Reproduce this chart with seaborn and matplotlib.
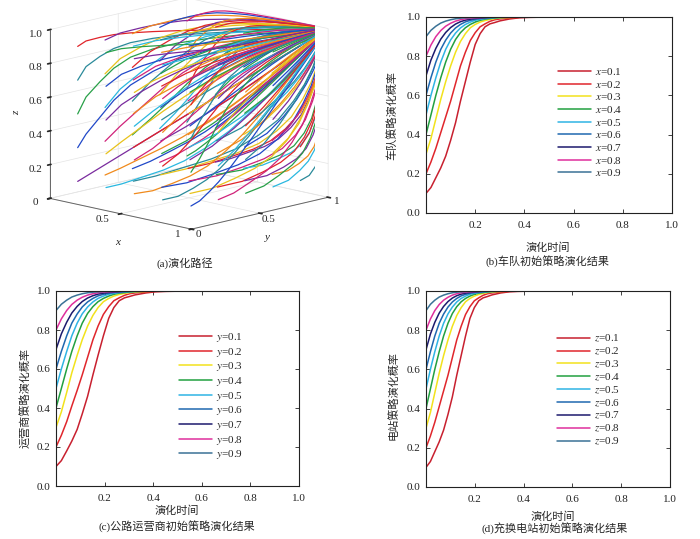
import numpy as np
import pandas as pd
import seaborn as sns
import matplotlib.pyplot as plt

sns.set_theme(style='ticks')
plt.rcParams['font.family'] = ['Liberation Serif', 'Noto Sans CJK SC']
plt.rcParams['mathtext.fontset'] = 'stix'
plt.rcParams['axes.unicode_minus'] = False
plt.rcParams['grid.color'] = '#e4e4e4'
plt.rcParams['grid.linewidth'] = 0.5

# initial strategy levels shown in panels b-d
init_levels = [0.1, 0.2, 0.3, 0.4, 0.5, 0.6, 0.7, 0.8, 0.9]

# evolution time samples for each panel
t_b = [0, .02, .04, .06, .08, .10, .12, .14, .16, .18, .20, .22, .24, .26, .28, .30, .34, .38, .42, .46, .52]
t_c = [0, .022, .044, .065, .087, .108, .13, .152, .173, .195, .217, .238, .26, .282, .303, .325, .37, .41, .455, .5, .57]
t_d = [0, .018, .036, .054, .072, .09, .108, .126, .144, .162, .18, .198, .216, .234, .252, .27, .306, .342, .378, .414, .46]

# probability curves (one per initial level)
v01 = [.10, .13, .18, .23, .29, .37, .46, .57, .67, .77, .86, .915, .95, .965, .972, .98, .99, .996, .998, .999, 1.0]
v02 = [.20, .26, .33, .41, .49, .57, .66, .75, .82, .88, .92, .95, .965, .978, .986, .99, .995, .998, .999, 1.0, 1.0]
v03 = [.30, .38, .48, .58, .67, .75, .82, .875, .915, .945, .962, .974, .982, .988, .992, .995, .998, .999, 1.0, 1.0, 1.0]
v04 = [.40, .50, .60, .69, .77, .835, .885, .92, .945, .962, .974, .983, .989, .992, .995, .997, .999, 1.0, 1.0, 1.0, 1.0]
v05 = [.50, .60, .69, .77, .835, .883, .918, .944, .962, .974, .983, .988, .992, .995, .997, .998, .999, 1.0, 1.0, 1.0, 1.0]
v06 = [.60, .69, .77, .835, .882, .918, .944, .962, .975, .983, .988, .992, .995, .997, .998, .999, 1.0, 1.0, 1.0, 1.0, 1.0]
v07 = [.70, .78, .84, .887, .921, .946, .964, .976, .984, .989, .993, .995, .997, .998, .999, 1.0, 1.0, 1.0, 1.0, 1.0, 1.0]
v08 = [.80, .857, .90, .931, .953, .968, .979, .986, .991, .994, .996, .997, .998, .999, 1.0, 1.0, 1.0, 1.0, 1.0, 1.0, 1.0]
v09 = [.90, .932, .953, .969, .979, .986, .991, .994, .996, .997, .998, .999, 1.0, 1.0, 1.0, 1.0, 1.0, 1.0, 1.0, 1.0, 1.0]
curves = [v01, v02, v03, v04, v05, v06, v07, v08, v09]

line_colors = ['#c8202f', '#e0262c', '#f2e21c', '#22a040', '#2fb4e4',
               '#1f68b0', '#1c1a6e', '#df2f9c', '#3a7296']

# starting levels of the 3D trajectories (x0, y0, z0 grid)
start_levels = [0.1, 0.3, 0.5, 0.7, 0.9]
traj_colors = ['#7a2b9e', '#2048c8', '#28a048', '#2a8a9a', '#e0242a',
               '#f08a1c', '#d0237a', '#2ab8e0', '#e8c21a']

fig = plt.figure(figsize=(7, 5.39), dpi=100)


def px(x, y):
    return x / 700, 1 - y / 539


# (a) 3D evolution paths
ax3 = fig.add_axes([0.015, 0.543, 0.5, 0.48], projection='3d', proj_type='ortho')
ax3.set_box_aspect((1, 1, 0.88), zoom=1.23)
ax3.view_init(elev=13, azim=-46)
k = 0
for xs in start_levels:
    for ys in start_levels:
        for zs in start_levels:
            cx = curves[init_levels.index(xs)]
            cy = curves[init_levels.index(ys)]
            cz = curves[init_levels.index(zs)]
            ax3.plot(cx, cy, cz, color=traj_colors[k % len(traj_colors)], lw=0.9)
            k += 1
ax3.set_xlim(0, 1)
ax3.set_ylim(0, 1)
ax3.set_zlim(0, 1)
ax3.set_xticks([0, 0.5, 1])
ax3.set_xticklabels([])
ax3.set_yticks([0, 0.5, 1])
ax3.set_yticklabels([])
ax3.set_zticks([0, 0.2, 0.4, 0.6, 0.8, 1.0])
ax3.set_zticklabels(['0', '0.2', '0.4', '0.6', '0.8', '1.0'])
ax3.zaxis.set_ticks_position('lower')
for axis in (ax3.xaxis, ax3.yaxis, ax3.zaxis):
    axis.set_pane_color((1, 1, 1, 0))
    axis.pane.set_edgecolor('#d8d8d8')
    axis.line.set_color('#666666')
    axis.line.set_linewidth(0.7)
ax3.tick_params(labelsize=8)
ax3.zaxis.set_tick_params(pad=-3)
ax3.set_xlabel('')
ax3.set_ylabel('')
ax3.set_zlabel('')
# x / y tick labels of the 3D box
for lab, (xp, yp) in zip(['0.5', '1'], [(102, 220), (178, 235)]):
    fig.text(*px(xp, yp), lab, fontsize=8, ha='center', va='center')
for lab, (xp, yp) in zip(['0', '0.5', '1'], [(198, 235), (268, 220), (337, 202)]):
    fig.text(*px(xp, yp), lab, fontsize=8, ha='center', va='center')
fig.text(*px(118, 242), 'x', style='italic', fontsize=8, ha='center', va='center')
fig.text(*px(267, 238), 'y', style='italic', fontsize=8, ha='center', va='center')
fig.text(*px(17, 113), 'z', style='italic', fontsize=8, ha='center', va='center', rotation=90)
fig.text(*px(185, 263), '(a)演化路径', fontsize=8, ha='center', va='center')


def draw_panel(rect, t, var, ylabel, caption, leg_xy, ylab_xy, xlab_xy, cap_xy):
    ax = fig.add_axes(rect)
    rows = []
    for lvl, vals in zip(init_levels, curves):
        for tt, v in zip(t, vals):
            rows.append((tt, v, f'${var}$={lvl}'))
    df = pd.DataFrame(rows, columns=['t', 'p', 'lab'])
    sns.lineplot(data=df, x='t', y='p', hue='lab', palette=line_colors,
                 sort=False, estimator=None, lw=1.1, ax=ax)
    ax.set_xlim(0, 1)
    ax.set_ylim(0, 1)
    ax.set_xticks([0.2, 0.4, 0.6, 0.8, 1.0])
    ax.set_xticklabels(['0.2', '0.4', '0.6', '0.8', '1.0'])
    ax.set_yticks([0, 0.2, 0.4, 0.6, 0.8, 1.0])
    ax.set_yticklabels(['0.0', '0.2', '0.4', '0.6', '0.8', '1.0'])
    ax.tick_params(direction='in', top=True, right=True, length=3, width=0.6,
                   labelsize=8, colors='#222222')
    ax.tick_params(axis='x', pad=6)
    ax.tick_params(axis='y', pad=4)
    for s in ax.spines.values():
        s.set_visible(True)
        s.set_color('#222222')
        s.set_linewidth(0.8)
    ax.set_xlabel('')
    ax.set_ylabel('')
    h, l = ax.get_legend_handles_labels()
    ax.legend(h, l, loc='upper left', bbox_to_anchor=leg_xy, frameon=False,
              fontsize=8, handlelength=3.0, handletextpad=0.3,
              labelspacing=0.15, borderpad=0, borderaxespad=0)
    fig.text(*px(*ylab_xy), ylabel, fontsize=8, rotation=90, ha='center', va='center')
    fig.text(*px(*xlab_xy), '演化时间', fontsize=8, ha='center', va='center')
    fig.text(*px(*cap_xy), caption, fontsize=8, ha='center', va='center')
    return ax


draw_panel([426 / 700, 1 - 213 / 539, 246 / 700, 196 / 539], t_b, 'x',
           '车队策略演化概率', '(b)车队初始策略演化结果',
           (0.537, 0.75), (392, 116), (548, 248), (548, 262))
draw_panel([56 / 700, 1 - 486 / 539, 243 / 700, 195 / 539], t_c, 'y',
           '运营商策略演化概率', '(c)公路运营商初始策略演化结果',
           (0.506, 0.795), (25, 398), (177, 511), (177, 527))
draw_panel([426 / 700, 1 - 487 / 539, 244 / 700, 196 / 539], t_d, 'z',
           '电站策略演化概率', '(d)充换电站初始策略演化结果',
           (0.537, 0.786), (393, 395), (553, 517), (555, 529))

fig.savefig('out.png', dpi=100)
